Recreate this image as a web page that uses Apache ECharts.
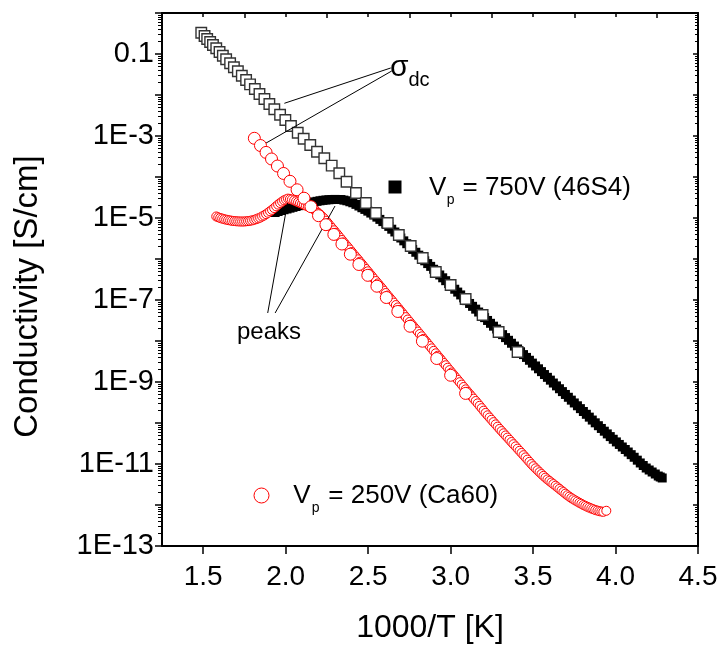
<!DOCTYPE html>
<html><head><meta charset="utf-8">
<script src="https://cdn.jsdelivr.net/npm/echarts@6/dist/echarts.min.js"></script>
<style>html,body{margin:0;padding:0;background:#fff}#c{width:721px;height:648px}</style>
</head><body><div id="c"></div>
<script>
// ---------- data ----------
// sigma_dc of 46S4 (open squares)
const dc46X = [1.488,1.508,1.524,1.542,1.559,1.579,1.599,1.619,1.639,1.663,1.686,1.710,1.734,1.760,1.784,1.813,1.841,1.871,1.901,1.931,1.966,1.998,2.032,2.073,2.109,2.149,2.190,2.234,2.279,2.325,2.369,2.426,2.486,2.547,2.619,2.686,2.758,2.831,2.910,3.000,3.091,3.194,3.291,3.406];
const dc46Y = [0.331,0.275,0.232,0.196,0.166,0.138,0.112,0.0910,0.0743,0.0593,0.0474,0.0378,0.0296,0.0232,0.0182,0.0140,0.0106,7.98e-3,6.03e-3,4.48e-3,3.31e-3,2.45e-3,1.75e-3,1.20e-3,8.59e-4,6.03e-4,4.14e-4,2.86e-4,1.89e-4,1.23e-4,7.67e-5,4.07e-5,2.32e-5,1.32e-5,7.55e-6,3.85e-6,2.07e-6,1.06e-6,4.82e-7,2.32e-7,1.06e-7,4.31e-8,1.66e-8,5.40e-9];
// Vp = 750V (46S4) (filled squares, dense)
const ac46X = [1.936,1.972,2.008,2.044,2.081,2.117,2.153,2.190,2.226,2.262,2.299,2.335,2.371,2.407,2.444,2.480,2.516,2.553,2.589,2.625,2.662,2.698,2.734,2.770,2.807,2.843,2.879,2.916,2.952,2.988,3.025,3.061,3.097,3.133,3.170,3.206,3.242,3.279,3.315,3.351,3.387,3.424,3.460,3.496,3.533,3.569,3.605,3.642,3.678,3.714,3.750,3.787,3.823,3.859,3.896,3.932,3.968,4.005,4.041,4.077,4.113,4.150,4.186,4.222,4.259,4.283,
  1.954,1.990,2.026,2.063,2.099,2.135,2.172,2.208,2.244,2.280,2.317,2.353,2.389,2.426,2.462,2.498,2.534,2.571,2.607,2.643,2.680,2.716,2.752,2.789,2.825,2.861,2.897,2.934,2.970,3.006,3.043,3.079,3.115,3.152,3.188,3.224,3.260,3.297,3.333,3.369,3.406,3.442,3.478,3.515,3.551,3.587,3.623,3.660,3.696,3.732,3.769,3.805,3.841,3.877,3.914,3.950,3.986,4.023,4.059,4.095,4.132,4.168,4.204,4.241,4.271];
const ac46Y = [1.36e-5,1.52e-5,1.66e-5,1.82e-5,2.00e-5,2.19e-5,2.39e-5,2.55e-5,2.70e-5,2.79e-5,2.84e-5,2.82e-5,2.63e-5,2.35e-5,1.96e-5,1.62e-5,1.32e-5,1.05e-5,8.17e-6,6.24e-6,4.56e-6,3.25e-6,2.36e-6,1.71e-6,1.24e-6,9.03e-7,6.61e-7,4.79e-7,3.48e-7,2.52e-7,1.83e-7,1.33e-7,9.66e-8,7.01e-8,5.09e-8,3.72e-8,2.70e-8,1.96e-8,1.43e-8,1.04e-8,7.52e-9,5.46e-9,3.98e-9,2.89e-9,2.10e-9,1.52e-9,1.11e-9,8.04e-10,5.83e-10,4.24e-10,3.08e-10,2.24e-10,1.63e-10,1.18e-10,8.59e-11,6.31e-11,4.66e-11,3.46e-11,2.60e-11,1.96e-11,1.46e-11,1.06e-11,7.98e-12,6.38e-12,5.09e-12,4.56e-12,
  1.44e-5,1.59e-5,1.74e-5,1.91e-5,2.10e-5,2.29e-5,2.47e-5,2.63e-5,2.75e-5,2.82e-5,2.83e-5,2.73e-5,2.49e-5,2.15e-5,1.78e-5,1.47e-5,1.18e-5,9.25e-6,7.14e-6,5.33e-6,3.85e-6,2.77e-6,2.01e-6,1.46e-6,1.06e-6,7.73e-7,5.62e-7,4.08e-7,2.96e-7,2.15e-7,1.56e-7,1.13e-7,8.23e-8,5.98e-8,4.36e-8,3.17e-8,2.30e-8,1.67e-8,1.21e-8,8.82e-9,6.40e-9,4.66e-9,3.39e-9,2.46e-9,1.79e-9,1.30e-9,9.43e-10,6.85e-10,4.97e-10,3.61e-10,2.63e-10,1.91e-10,1.39e-10,1.01e-10,7.36e-11,5.42e-11,4.01e-11,3.00e-11,2.26e-11,1.69e-11,1.24e-11,9.18e-12,7.14e-12,5.70e-12,4.82e-12];
// sigma_dc of Ca60 (large open circles)
const dc60X = [1.810,1.847,1.881,1.914,1.950,1.987,2.026,2.069,2.111,2.153,2.199,2.244,2.292,2.341,2.392,2.444,2.498,2.553,2.610,2.680,2.754,2.829,2.916,3.000,3.091];
const dc60Y = [8.79e-4,5.86e-4,3.98e-4,2.75e-4,1.85e-4,1.22e-4,7.85e-5,4.88e-5,3.04e-5,1.89e-5,1.14e-5,6.87e-6,3.98e-6,2.32e-6,1.31e-6,7.35e-7,4.00e-7,2.17e-7,1.15e-7,5.25e-8,2.29e-8,9.89e-9,3.74e-9,1.46e-9,5.27e-10];
// Vp = 250V (Ca60) (small open circles, dense)
const ac60X = [1.579,1.603,1.627,1.651,1.675,1.700,1.724,1.748,1.772,1.796,1.821,1.845,1.869,1.893,1.917,1.942,1.966,1.990,2.014,2.038,2.063,2.087,2.111,2.135,2.159,2.184,2.208,2.232,
  2.256,2.280,2.305,2.329,2.353,2.377,2.401,2.426,2.450,2.474,2.498,2.522,2.547,2.571,2.595,2.619,2.643,2.668,2.692,2.716,2.740,2.764,2.789,2.813,2.837,2.861,2.885,2.910,2.934,2.958,2.982,3.006,3.031,3.055,3.079,3.103,3.127,3.152,3.176,3.200,3.224,3.248,3.273,3.297,3.321,3.345,3.369,3.394,3.418,3.442,3.466,3.490,3.515,3.539,3.563,3.587,3.611,3.636,3.660,3.684,3.708,3.732,3.756,3.781,3.805,3.829,3.853,3.877,3.902,3.926,3.944,
  1.591,1.615,1.639,1.663,1.688,1.712,1.736,1.760,1.784,1.809,1.833,1.857,1.881,1.905,1.930,1.954,1.978,2.002,2.026,2.051,2.075,2.099,2.123,2.147,2.172,2.196,2.220,2.244,
  2.268,2.293,2.317,2.341,2.365,2.389,2.413,2.438,2.462,2.486,2.510,2.534,2.559,2.583,2.607,2.631,2.655,2.680,2.704,2.728,2.752,2.776,2.801,2.825,2.849,2.873,2.897,2.922,2.946,2.970,2.994,3.018,3.043,3.067,3.091,3.115,3.139,3.164,3.188,3.212,3.236,3.260,3.285,3.309,3.333,3.357,3.381,3.406,3.430,3.454,3.478,3.502,3.527,3.551,3.575,3.599,3.623,3.648,3.672,3.696,3.720,3.744,3.769,3.793,3.817,3.841,3.865,3.890,3.914];
const ac60Y = [1.09e-5,1.00e-5,9.35e-6,8.89e-6,8.55e-6,8.32e-6,8.22e-6,8.22e-6,8.39e-6,8.73e-6,9.35e-6,1.02e-5,1.15e-5,1.34e-5,1.58e-5,1.93e-5,2.32e-5,2.70e-5,2.97e-5,2.82e-5,2.55e-5,2.32e-5,2.10e-5,1.91e-5,1.75e-5,1.48e-5,1.22e-5,9.84e-6,
  7.52e-6,5.74e-6,4.38e-6,3.33e-6,2.54e-6,1.94e-6,1.48e-6,1.12e-6,8.59e-7,6.56e-7,5.01e-7,3.83e-7,2.90e-7,2.22e-7,1.69e-7,1.29e-7,9.89e-8,7.52e-8,5.74e-8,4.38e-8,3.34e-8,2.55e-8,1.94e-8,1.48e-8,1.13e-8,8.65e-9,6.61e-9,5.01e-9,3.83e-9,2.92e-9,2.23e-9,1.71e-9,1.29e-9,9.89e-10,7.55e-10,5.79e-10,4.48e-10,3.44e-10,2.63e-10,2.00e-10,1.54e-10,1.20e-10,9.25e-11,7.18e-11,5.61e-11,4.41e-11,3.44e-11,2.69e-11,2.10e-11,1.64e-11,1.28e-11,9.95e-12,7.85e-12,6.31e-12,5.13e-12,4.21e-12,3.54e-12,2.96e-12,2.47e-12,2.07e-12,1.73e-12,1.48e-12,1.29e-12,1.13e-12,1.00e-12,9.03e-13,8.22e-13,7.55e-13,7.06e-13,6.82e-13,7.23e-13,
  1.04e-5,9.67e-6,9.12e-6,8.72e-6,8.43e-6,8.27e-6,8.22e-6,8.31e-6,8.56e-6,9.04e-6,9.78e-6,1.09e-5,1.24e-5,1.46e-5,1.75e-5,2.12e-5,2.51e-5,2.83e-5,2.90e-5,2.69e-5,2.43e-5,2.21e-5,2.00e-5,1.83e-5,1.61e-5,1.34e-5,1.09e-5,8.60e-6,
  6.57e-6,5.01e-6,3.82e-6,2.91e-6,2.22e-6,1.70e-6,1.29e-6,9.83e-7,7.51e-7,5.73e-7,4.38e-7,3.33e-7,2.54e-7,1.94e-7,1.48e-7,1.13e-7,8.62e-8,6.57e-8,5.01e-8,3.82e-8,2.92e-8,2.23e-8,1.70e-8,1.30e-8,9.90e-9,7.56e-9,5.75e-9,4.38e-9,3.35e-9,2.56e-9,1.95e-9,1.49e-9,1.13e-9,8.64e-10,6.61e-10,5.09e-10,3.93e-10,3.01e-10,2.30e-10,1.76e-10,1.36e-10,1.05e-10,8.15e-11,6.35e-11,4.97e-11,3.90e-11,3.04e-11,2.37e-11,1.86e-11,1.45e-11,1.13e-11,8.84e-12,7.04e-12,5.69e-12,4.65e-12,3.86e-12,3.24e-12,2.70e-12,2.26e-12,1.89e-12,1.60e-12,1.38e-12,1.21e-12,1.07e-12,9.53e-13,8.62e-13,7.88e-13,7.30e-13,6.94e-13];
// annotation segments [x1, sigma1, x2, sigma2]
const sigmaArrows = [[2.637,0.0456,1.992,6.28e-3],[2.643,0.0385,1.871,6.38e-4]];
const peakLines = [[1.891,4.82e-8,2.011,2.32e-5],[1.936,4.82e-8,2.299,1.96e-5]];
// ticks
const xTickLabels = [1.5,2.0,2.5,3.0,3.5,4.0,4.5];
const xMinorTicks = [1.25,1.75,2.25,2.75,3.25,3.75,4.25];
const yDecades = [-13,-12,-11,-10,-9,-8,-7,-6,-5,-4,-3,-2,-1,0];
const yLabelDecades = [-13,-11,-9,-7,-5,-3,-1];

// ---------- chart ----------
const FONT = "'Liberation Sans', Arial, Helvetica, sans-serif";
const pts = (xs, ys) => xs.map((x, i) => [x, Math.log10(ys[i])]).sort((a, b) => a[0] - b[0]);
const seg = s => [{coord:[s[0], Math.log10(s[1])]}, {coord:[s[2], Math.log10(s[3])]}];
const yMinor = [];
yDecades.slice(0, -1).forEach(e => { for (let k = 2; k <= 9; k++) yMinor.push(e + Math.log10(k)); });
const yFmt = v => (Math.round(v) === -1 ? '0.1' : '1E' + Math.round(v));

const baseX = {type:'value', min:1.25, max:4.5, splitLine:{show:false}};
const baseY = {type:'value', min:-13, max:0, splitLine:{show:false}};
const txt = (text, x, y, size) => ({type:'text', x:x, y:y, silent:true,
  style:{text:text, fontSize:size, fontFamily:FONT, fill:'#000', align:'left', verticalAlign:'middle'}});

const option = {
  animation:false,
  backgroundColor:'#fff',
  grid:{left:162, right:23, top:13, bottom:102, containLabel:false, outerBoundsMode:'none'},
  xAxis:[
    Object.assign({}, baseX, {position:'bottom',
      axisLine:{onZero:false, lineStyle:{color:'#000', width:2}},
      axisTick:{customValues:xTickLabels, length:8, lineStyle:{color:'#000', width:1.5}},
      axisLabel:{customValues:xTickLabels, formatter:v => v.toFixed(1), fontSize:28, margin:17, color:'#000', fontFamily:FONT},
      name:'1000/T [K]', nameLocation:'middle', nameGap:66,
      nameTextStyle:{fontSize:32, color:'#000', fontFamily:FONT}}),
    Object.assign({}, baseX, {position:'bottom', axisLine:{show:false},
      axisTick:{customValues:xMinorTicks, length:5, lineStyle:{color:'#000', width:1.5}},
      axisLabel:{show:false}}),
    Object.assign({}, baseX, {position:'top',
      axisLine:{onZero:false, lineStyle:{color:'#000', width:2}},
      axisTick:{inside:true, customValues:xTickLabels.concat(xMinorTicks), length:4, lineStyle:{color:'#000', width:1.5}},
      axisLabel:{show:false}})
  ],
  yAxis:[
    Object.assign({}, baseY, {position:'left',
      axisLine:{show:true, onZero:false, lineStyle:{color:'#000', width:2}},
      axisTick:{show:true, customValues:yDecades, length:7, lineStyle:{color:'#000', width:1.5}},
      axisLabel:{customValues:yLabelDecades, formatter:yFmt, fontSize:29, margin:8, color:'#000', fontFamily:FONT},
      name:'Conductivity [S/cm]', nameLocation:'middle', nameGap:118,
      nameTextStyle:{fontSize:33, color:'#000', fontFamily:FONT, padding:[0,34,0,0]}}),
    Object.assign({}, baseY, {position:'left', offset:0, axisLine:{show:false},
      axisTick:{show:true, customValues:yMinor, length:4, lineStyle:{color:'#000', width:1}},
      axisLabel:{show:false}}),
    Object.assign({}, baseY, {position:'right', offset:0,
      axisLine:{show:true, onZero:false, lineStyle:{color:'#000', width:2}},
      axisTick:{show:true, inside:true, customValues:yDecades, length:5, lineStyle:{color:'#000', width:1.5}},
      axisLabel:{show:false}}),
    Object.assign({}, baseY, {position:'right', offset:0, axisLine:{show:false},
      axisTick:{show:true, inside:true, customValues:yMinor, length:3, lineStyle:{color:'#000', width:1}},
      axisLabel:{show:false}})
  ],
  legend:[
    {data:[{name:'Vp = 750V (46S4)', icon:'rect', itemStyle:{color:'#000', borderWidth:0, opacity:1}}],
     left:388.5, top:180.5, padding:0, itemWidth:13, itemHeight:13, selectedMode:false,
     formatter:() => '', textStyle:{fontSize:1}},
    {data:[{name:'Vp = 250V (Ca60)', icon:'circle', itemStyle:{color:'#fff', borderColor:'#ff0000', borderWidth:1, opacity:1}}],
     left:253.5, top:487.5, padding:0, itemWidth:15, itemHeight:15, selectedMode:false,
     formatter:() => '', textStyle:{fontSize:1}}
  ],
  series:[
    {type:'scatter', name:'Vp = 750V (46S4)', data:pts(ac46X, ac46Y), symbol:'rect', symbolSize:9,
     itemStyle:{color:'#000', opacity:1}, z:2, silent:true,
     markLine:{silent:true, symbol:['none','none'], label:{show:false},
       lineStyle:{color:'#000', width:1, type:'solid', opacity:1}, data:peakLines.map(seg)}},
    {type:'scatter', name:'Vp = 250V (Ca60)', data:pts(ac60X, ac60Y), symbol:'circle', symbolSize:9,
     itemStyle:{color:'#fff', borderColor:'#ff0000', borderWidth:1, opacity:1}, z:3, silent:true},
    {type:'scatter', name:'sigma_dc 46S4', data:pts(dc46X, dc46Y), symbol:'rect', symbolSize:10.5,
     itemStyle:{color:'#fff', borderColor:'#333', borderWidth:1.4, opacity:1}, z:4, silent:true},
    {type:'scatter', name:'sigma_dc Ca60', data:pts(dc60X, dc60Y), symbol:'circle', symbolSize:12,
     itemStyle:{color:'#fff', borderColor:'#ff0000', borderWidth:1, opacity:1}, z:5, silent:true,
     markLine:{silent:true, symbol:['none','arrow'], symbolSize:[0,9], label:{show:false},
       lineStyle:{color:'#000', width:1, type:'solid', opacity:1}, data:sigmaArrows.map(seg)}}
  ],
  graphic:[
    txt('σ', 390, 68, 30),
    txt('dc', 408.5, 80.3, 20),
    txt('peaks', 237, 332.5, 24),
    txt('V', 429, 188, 26),
    txt('p', 446.7, 200.5, 14),
    txt('= 750V (46S4)', 462.5, 188, 26),
    txt('V', 293.3, 495.8, 26),
    txt('p', 311.7, 508, 14),
    txt('= 250V (Ca60)', 328.3, 495.8, 26)
  ]
};
const chart = echarts.init(document.getElementById('c'), null, {renderer:'canvas'});
chart.setOption(option);
</script></body></html>
